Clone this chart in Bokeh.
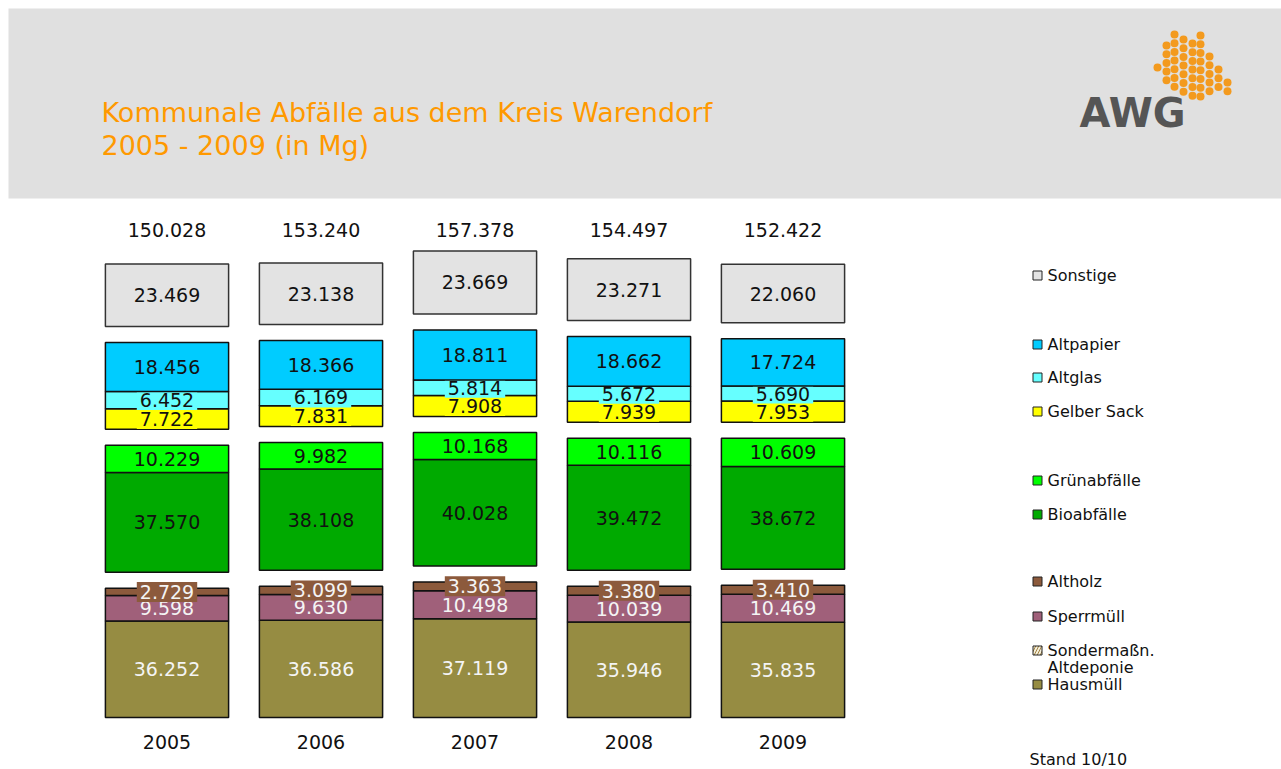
from bokeh.plotting import figure
from bokeh.models import ColumnDataSource, BoxAnnotation, Range1d
from bokeh.core.properties import value
from bokeh.embed import file_html
from bokeh.resources import INLINE

# ---------------- data (1000 Mg) ----------------
years = ["2005", "2006", "2007", "2008", "2009"]
totals = [150.028, 153.240, 157.378, 154.497, 152.422]

hausmuell = [36.252, 36.586, 37.119, 35.946, 35.835]
sondermassn = [0.0, 0.0, 0.0, 0.0, 0.0]
sperrmuell = [9.598, 9.630, 10.498, 10.039, 10.469]
altholz = [2.729, 3.099, 3.363, 3.380, 3.410]
bioabfaelle = [37.570, 38.108, 40.028, 39.472, 38.672]
gruenabfaelle = [10.229, 9.982, 10.168, 10.116, 10.609]
gelber_sack = [7.722, 7.831, 7.908, 7.939, 7.953]
altglas = [6.452, 6.169, 5.814, 5.672, 5.690]
altpapier = [18.456, 18.366, 18.811, 18.662, 17.724]
sonstige = [23.469, 23.138, 23.669, 23.271, 22.060]

series_names = ["Hausmüll", "Sondermaßn. Altdeponie", "Sperrmüll", "Altholz",
                "Bioabfälle", "Grünabfälle", "Gelber Sack", "Altglas",
                "Altpapier", "Sonstige"]
series_values = [hausmuell, sondermassn, sperrmuell, altholz, bioabfaelle,
                 gruenabfaelle, gelber_sack, altglas, altpapier, sonstige]

title_lines = ["Kommunale Abfälle aus dem Kreis Warendorf", "2005 - 2009 (in Mg)"]
footnote = "Stand 10/10"

# ---------------- styles / layout ----------------
series_group = [0, 0, 0, 0, 1, 1, 2, 2, 2, 3]
series_colors = ["#968C42", "#F5F0DC", "#A0607A", "#8C5A3C", "#00AA00",
                 "#00FF00", "#FFFF00", "#66FFFF", "#00CCFF", "#E3E3E3"]
label_colors = ["#F4F4F4", "#000000", "#F4F4F4", "#F4F4F4", "#111111",
                "#111111", "#111111", "#111111", "#111111", "#111111"]
label_bgs = [None, None, None, "#8C5A3C", None, None, "#FFFF00", "#66FFFF", None, None]
outline_colors = ["#111111"] * 9 + ["#333333"]

W, H = 1281, 769
K = 2.66          # px per 1000 Mg
BASE_PY = 717     # page y of bar base
X0 = 166.5        # page x of first bar centre
STEP = 154        # px between bars
GAP = 6.0         # gap between groups (data units)
BAR_W = 0.8
FONT = value("DejaVu Sans")


def X(px):  # page px -> data x
    return (px - X0) / STEP


def Y(py):  # page px -> data y
    return (BASE_PY - py) / K


p = figure(width=W, height=H, output_backend="svg", toolbar_location=None,
           x_range=Range1d(X(0), X(W)), y_range=Range1d(Y(H), Y(0)),
           x_axis_location=None, y_axis_location=None, min_border=0)
p.grid.visible = False
p.outline_line_color = None
p.background_fill_color = "white"
p.border_fill_color = "white"

# header band
p.add_layout(BoxAnnotation(left=X(8), top=Y(8), bottom=Y(198), fill_color="#E0E0E0",
                           fill_alpha=1.0, line_color=None, level="underlay"))

# title
p.text(x=[X(101), X(101)], y=[Y(112), Y(145)], text=title_lines,
       text_font=FONT, text_font_size="27px", text_color="#FF9900",
       text_align="left", text_baseline="middle")

# logo
dot_cols = [(1157, 67, 1), (1166, 45, 5), (1174, 34, 7), (1183, 39, 7),
            (1192, 43, 7), (1200, 35, 8), (1209, 56, 5), (1218, 69, 3), (1227, 82, 2)]
dx, dy = [], []
for cx, cy, n in dot_cols:
    for k in range(n):
        dx.append(X(cx))
        dy.append(Y(cy + k * 8.7))
p.scatter(x=dx, y=dy, size=8, fill_color="#F39A1E", line_color=None)
p.text(x=[X(1079)], y=[Y(112)], text=["AWG"], text_font=FONT,
       text_font_style="bold", text_font_size="40px", text_color="#555555",
       text_align="left", text_baseline="middle")

# stacked bars with group gaps
xs = list(range(len(years)))
bottoms = [0.0] * len(years)
prev_group = 0
for name, vals, grp, col, lcol, bg, ocol in zip(series_names, series_values, series_group,
                                                series_colors, label_colors, label_bgs,
                                                outline_colors):
    if grp != prev_group:
        bottoms = [b + GAP for b in bottoms]
        prev_group = grp
    tops = [b + v for b, v in zip(bottoms, vals)]
    if sum(vals) > 0:
        src = ColumnDataSource(dict(x=xs, bottom=bottoms, top=tops,
                                    mid=[(b + t) / 2 for b, t in zip(bottoms, tops)],
                                    lab=[f"{v:.3f}" for v in vals]))
        p.vbar(x="x", bottom="bottom", top="top", width=BAR_W, source=src,
               fill_color=col, line_color=ocol, line_width=1.5)
        kw = {}
        if bg is not None:
            kw = dict(background_fill_color=bg, padding=3)
        p.text(x="x", y="mid", text="lab", source=src, text_font=FONT,
               text_font_size="19px", text_color=lcol, text_align="center",
               text_baseline="middle", **kw)
    bottoms = tops

# totals and year labels
p.text(x=xs, y=[Y(229)] * len(xs), text=[f"{t:.3f}" for t in totals],
       text_font=FONT, text_font_size="19px", text_color="#111111",
       text_align="center", text_baseline="middle")
p.text(x=xs, y=[Y(741)] * len(xs), text=years,
       text_font=FONT, text_font_size="19px", text_color="#111111",
       text_align="center", text_baseline="middle")

# legend (manual)
legend_order = ["Sonstige", "Altpapier", "Altglas", "Gelber Sack", "Grünabfälle",
                "Bioabfälle", "Altholz", "Sperrmüll", "Sondermaßn. Altdeponie", "Hausmüll"]
legend_py = [275, 344, 377, 411, 480, 514, 581, 616, 650, 684]
for name, py in zip(legend_order, legend_py):
    i = series_names.index(name)
    kw = {}
    if name.startswith("Sonder"):
        kw = dict(hatch_pattern="/", hatch_color="#A08040", hatch_scale=6)
    p.scatter(x=[X(1037)], y=[Y(py)], marker="square", size=9,
              fill_color=series_colors[i], line_color="#222222", line_width=1, **kw)
    if name.startswith("Sonder"):
        lines = ["Sondermaßn.", "Altdeponie"]
        p.text(x=[X(1047), X(1047)], y=[Y(py), Y(py + 17)], text=lines,
               text_font=FONT, text_font_size="16px", text_color="#111111",
               text_align="left", text_baseline="middle")
    else:
        p.text(x=[X(1047)], y=[Y(py)], text=[name], text_font=FONT,
               text_font_size="16px", text_color="#111111",
               text_align="left", text_baseline="middle")

p.text(x=[X(1029)], y=[Y(759)], text=[footnote], text_font=FONT,
       text_font_size="16px", text_color="#111111", text_align="left",
       text_baseline="middle")

open("out.html", "w").write(file_html(p, INLINE))
